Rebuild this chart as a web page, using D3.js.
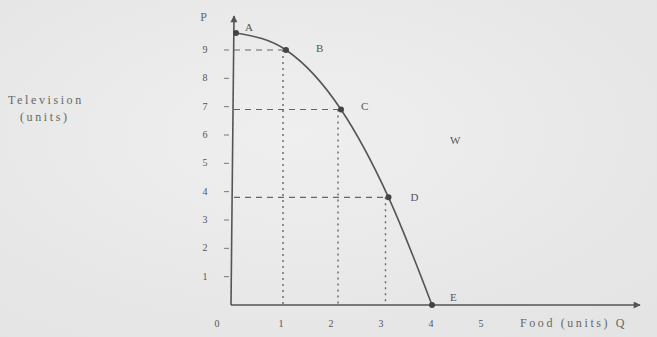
<!DOCTYPE html>
<html>
<head>
<meta charset="utf-8">
<script src="https://cdn.jsdelivr.net/npm/d3@7"></script>
<style>
  body { margin: 0; background: #ececec; }
  svg { display: block; }
  .tick-label { font-family: 'Liberation Serif', serif; font-size: 10px; fill: #555; }
  .point-label { font-family: 'Liberation Serif', serif; font-size: 11px; fill: #555; }
  .axis-title { font-family: 'Liberation Serif', serif; font-size: 12px; fill: #666; letter-spacing: 2.6px; }
</style>
</head>
<body>
<svg></svg>
<script>
// production possibility points
const pointNames = ['A', 'B', 'C', 'D', 'E']
const foodValues = [0.1, 1.1, 2.2, 3.15, 4.02]
const tvValues = [9.6, 9, 6.9, 3.8, 0]

// tick labels
const xTicks = [1, 2, 3, 4, 5]
const yTicks = [1, 2, 3, 4, 5, 6, 7, 8, 9]

// dashed guides go from these points to both axes
const guidePoints = ['B', 'C', 'D']

const w = 657
const h = 337

const svg = d3.select('svg')
  .attr('width', w)
  .attr('height', h)

// soft scan-like background
const defs = svg.append('defs')
const grad = defs.append('radialGradient').attr('id', 'bg')
  .attr('cx', '45%').attr('cy', '40%').attr('r', '75%')
grad.append('stop').attr('offset', '0%').attr('stop-color', '#efefef')
grad.append('stop').attr('offset', '100%').attr('stop-color', '#e4e4e4')
svg.append('rect').attr('width', w).attr('height', h).attr('fill', 'url(#bg)')

const xScale = d3.scaleLinear().domain([0, 5]).range([231, 481])
const yScale = d3.scaleLinear().domain([0, 9]).range([305, 50])

const ink = '#555'

const data = pointNames.map((n, i) => ({ name: n, q: foodValues[i], p: tvValues[i] }))

// guides
data.filter(d => guidePoints.includes(d.name)).forEach(d => {
  svg.append('line')
    .attr('x1', xScale(0) + 3).attr('x2', xScale(d.q))
    .attr('y1', yScale(d.p)).attr('y2', yScale(d.p))
    .attr('stroke', '#666').attr('stroke-width', 1.2)
    .attr('stroke-dasharray', '6,5')
  svg.append('line')
    .attr('x1', xScale(d.q) - 3).attr('x2', xScale(d.q) - 3)
    .attr('y1', yScale(d.p)).attr('y2', yScale(0))
    .attr('stroke', '#666').attr('stroke-width', 1.4)
    .attr('stroke-dasharray', '2,4')
})

// arrow marker
defs.append('marker').attr('id', 'arrow')
  .attr('viewBox', '0 0 10 10').attr('refX', 9).attr('refY', 5)
  .attr('markerWidth', 10).attr('markerHeight', 7)
  .attr('markerUnits', 'userSpaceOnUse')
  .attr('orient', 'auto')
  .append('path').attr('d', 'M0,0 L10,5 L0,10 Z').attr('fill', ink)

// axes
svg.append('line')
  .attr('x1', xScale(0)).attr('y1', yScale(0))
  .attr('x2', 640).attr('y2', yScale(0))
  .attr('stroke', ink).attr('stroke-width', 1.6)
  .attr('marker-end', 'url(#arrow)')
svg.append('line')
  .attr('x1', xScale(0)).attr('y1', yScale(0))
  .attr('x2', xScale(0) + 3).attr('y2', 16)
  .attr('stroke', ink).attr('stroke-width', 1.6)
  .attr('marker-end', 'url(#arrow)')

// y ticks
yTicks.forEach(t => {
  svg.append('line')
    .attr('x1', xScale(0) - 7).attr('x2', xScale(0) - 2)
    .attr('y1', yScale(t)).attr('y2', yScale(t))
    .attr('stroke', '#777').attr('stroke-width', 1)
  svg.append('text')
    .attr('class', 'tick-label')
    .attr('x', 205).attr('y', yScale(t) + 3)
    .attr('text-anchor', 'middle')
    .text(t)
})

// x ticks
xTicks.forEach(t => {
  svg.append('text')
    .attr('class', 'tick-label')
    .attr('x', xScale(t)).attr('y', 327)
    .attr('text-anchor', 'middle')
    .text(t)
})
svg.append('text').attr('class', 'tick-label')
  .attr('x', 217).attr('y', 327).attr('text-anchor', 'middle').text('0')

// the frontier
const line = d3.line()
  .x(d => xScale(d.q))
  .y(d => yScale(d.p))
  .curve(d3.curveMonotoneX)

svg.append('path')
  .datum(data)
  .attr('d', line)
  .attr('fill', 'none')
  .attr('stroke', ink)
  .attr('stroke-width', 1.6)

svg.selectAll('.pt')
  .data(data)
  .enter()
  .append('circle')
  .attr('class', 'pt')
  .attr('cx', d => xScale(d.q))
  .attr('cy', d => yScale(d.p))
  .attr('r', 3)
  .attr('fill', '#444')

// point labels
const labelOffsets = { A: [9, -6], B: [30, -2], C: [20, -4], D: [22, 0], E: [18, -8] }
svg.selectAll('.pl')
  .data(data)
  .enter()
  .append('text')
  .attr('class', 'point-label')
  .attr('x', d => xScale(d.q) + labelOffsets[d.name][0])
  .attr('y', d => yScale(d.p) + labelOffsets[d.name][1] + 4)
  .text(d => d.name)

svg.append('text').attr('class', 'point-label')
  .attr('x', 450).attr('y', 144).text('W')

// axis titles
svg.append('text').attr('class', 'axis-title')
  .attr('x', 205).attr('y', 21).attr('text-anchor', 'middle').text('P')
svg.append('text').attr('class', 'axis-title')
  .attr('x', 8).attr('y', 104).text('Television')
svg.append('text').attr('class', 'axis-title')
  .attr('x', 20).attr('y', 121).text('(units)')
svg.append('text').attr('class', 'axis-title')
  .attr('x', 520).attr('y', 327).text('Food (units) Q')
</script>
</body>
</html>
